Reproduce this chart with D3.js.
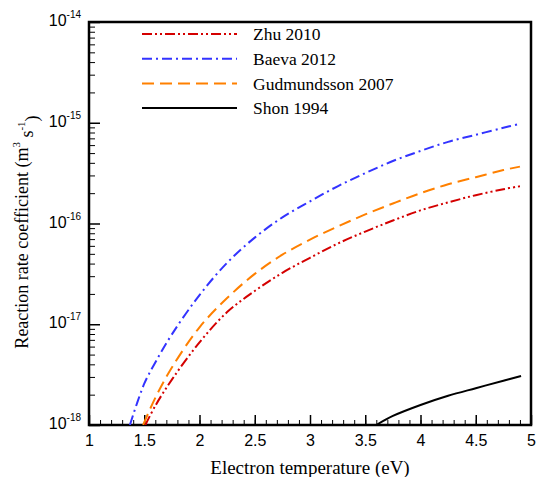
<!DOCTYPE html>
<html>
<head>
<meta charset="utf-8">
<script src="https://cdn.jsdelivr.net/npm/d3@7"></script>
<style>
  body { margin: 0; background: #fff; }
  svg { display: block; }
</style>
</head>
<body>
<svg id="chart" width="543" height="477"></svg>
<script>
//
// Data, rate coefficients in m^3 s^-1
//

var zhuT = [1.51, 1.6, 1.75, 2.0, 2.25, 2.5, 2.75, 3.0, 3.25, 3.5, 3.75, 4.0, 4.25, 4.5, 4.75, 4.9]
var zhuK = [1.0e-18, 1.55e-18, 2.82e-18, 6.61e-18, 1.32e-17, 2.14e-17, 3.24e-17, 4.57e-17,
            6.31e-17, 8.32e-17, 1.07e-16, 1.35e-16, 1.62e-16, 1.91e-16, 2.19e-16, 2.34e-16]

var baevaT = [1.37, 1.5, 1.6, 1.75, 2.0, 2.25, 2.5, 2.75, 3.0, 3.25, 3.5, 3.75, 4.0, 4.25, 4.5, 4.75, 4.9]
var baevaK = [1.0e-18, 2.57e-18, 4.17e-18, 7.94e-18, 1.95e-17, 4.07e-17, 7.24e-17, 1.15e-16, 1.66e-16,
              2.34e-16, 3.16e-16, 4.17e-16, 5.25e-16, 6.46e-16, 7.59e-16, 8.91e-16, 9.77e-16]

var gudT = [1.49, 1.6, 1.75, 2.0, 2.25, 2.5, 2.75, 3.0, 3.25, 3.5, 3.75, 4.0, 4.25, 4.5, 4.75, 4.9]
var gudK = [1.0e-18, 1.86e-18, 3.72e-18, 9.33e-18, 1.82e-17, 3.16e-17, 4.90e-17, 6.92e-17,
            9.33e-17, 1.23e-16, 1.58e-16, 2.00e-16, 2.45e-16, 2.88e-16, 3.39e-16, 3.67e-16]

var shonT = [3.6, 3.75, 4.0, 4.25, 4.5, 4.75, 4.91]
var shonK = [1.0e-18, 1.23e-18, 1.58e-18, 1.95e-18, 2.32e-18, 2.75e-18, 3.07e-18]

var seriesNames = ['Zhu 2010', 'Baeva 2012', 'Gudmundsson 2007', 'Shon 1994']
var xTicks = [1, 1.5, 2, 2.5, 3, 3.5, 4, 4.5, 5]
var yExponents = [-18, -17, -16, -15, -14]

//
// Configuration
//

var colors = ['#d40000', '#3333ff', '#ff8000', '#000000']
var dashes = ['10,3,2,3,2,3', '10,4,2,4', '12,6', null]
var margin = { left: 89, right: 12, top: 22, bottom: 52 }
var width = 543, height = 477
var serif = '"Liberation Serif", "Times New Roman", serif'
var sans = '"Liberation Sans", Arial, sans-serif'

//
// Scales
//

var svg = d3.select('#chart')
var x = d3.scaleLinear().domain([1, 5]).range([margin.left, width - margin.right])
var y = d3.scaleLog().domain([1e-18, 1e-14]).range([height - margin.bottom, margin.top])
var x0 = x.range()[0], x1 = x.range()[1]
var y0 = y.range()[0], y1 = y.range()[1]

svg.append('clipPath').attr('id', 'plot')
  .append('rect').attr('x', x0).attr('y', y1).attr('width', x1 - x0).attr('height', y0 - y1)

//
// Axes
//

// x minor ticks every 0.1
var xMinor = d3.range(10, 51).map(function(d) { return d / 10 })
svg.append('g')
  .attr('transform', 'translate(0,' + y0 + ')')
  .call(d3.axisBottom(x).tickValues(xMinor).tickSize(-5).tickFormat(''))
  .call(function(g) { g.select('.domain').remove() })
  .selectAll('line').attr('stroke-width', 1)

var xAxis = svg.append('g')
  .attr('transform', 'translate(0,' + y0 + ')')
  .call(d3.axisBottom(x).tickValues(xTicks).tickSize(-10).tickPadding(10).tickFormat(d3.format('')))
xAxis.select('.domain').remove()
xAxis.selectAll('line').attr('stroke-width', 1.5)
xAxis.selectAll('text').attr('font-family', sans).attr('font-size', 16).attr('fill', '#000')

// y minor ticks 2..9 per decade
var yMinor = []
yExponents.slice(0, -1).forEach(function(e) {
  for (var m = 2; m <= 9; m++) yMinor.push(m * Math.pow(10, e))
})
svg.append('g')
  .attr('transform', 'translate(' + x0 + ',0)')
  .call(d3.axisLeft(y).tickValues(yMinor).tickSize(-6).tickFormat(''))
  .call(function(g) { g.select('.domain').remove() })
  .selectAll('line').attr('stroke-width', 1)

var yMajor = yExponents.map(function(e) { return Math.pow(10, e) })
var yAxis = svg.append('g')
  .attr('transform', 'translate(' + x0 + ',0)')
  .call(d3.axisLeft(y).tickValues(yMajor).tickSize(-11).tickFormat(''))
yAxis.select('.domain').remove()
yAxis.selectAll('line').attr('stroke-width', 1.5)
yAxis.selectAll('text')
  .attr('font-family', sans).attr('fill', '#000').attr('dy', '0.35em').attr('x', -8)
  .each(function(d, i) {
    var t = d3.select(this)
    t.append('tspan').attr('font-size', 16).text('10')
    t.append('tspan').attr('font-size', 10).attr('dy', '-0.8em').text(String(yExponents[i]))
  })

// frame
svg.append('rect')
  .attr('x', x0).attr('y', y1).attr('width', x1 - x0).attr('height', y0 - y1)
  .attr('fill', 'none').attr('stroke', '#000').attr('stroke-width', 2.5)

// axis titles
svg.append('text')
  .attr('x', (x0 + x1) / 2).attr('y', 474)
  .attr('text-anchor', 'middle')
  .attr('font-family', serif).attr('font-size', 19)
  .text('Electron temperature (eV)')

var yTitle = svg.append('text')
  .attr('transform', 'translate(28,232) rotate(-90)')
  .attr('text-anchor', 'middle')
  .attr('font-family', serif).attr('font-size', 18)
yTitle.append('tspan').text('Reaction rate coefficient (m')
yTitle.append('tspan').attr('font-size', 11).attr('dy', '-0.7em').text('3')
yTitle.append('tspan').attr('font-size', 18).attr('dy', '0.7em').text(' s')
yTitle.append('tspan').attr('font-size', 11).attr('dy', '-0.7em').text('-1')
yTitle.append('tspan').attr('font-size', 18).attr('dy', '0.7em').text(')')

//
// Lines
//

var line = d3.line()
  .x(function(d) { return x(d[0]) })
  .y(function(d) { return y(d[1]) })
  .curve(d3.curveCatmullRom.alpha(0.5))

var series = [
  d3.zip(zhuT, zhuK),
  d3.zip(baevaT, baevaK),
  d3.zip(gudT, gudK),
  d3.zip(shonT, shonK)
]

svg.append('g').attr('clip-path', 'url(#plot)')
  .selectAll('path')
  .data(series)
  .join('path')
  .attr('d', line)
  .attr('fill', 'none')
  .attr('stroke', function(d, i) { return colors[i] })
  .attr('stroke-width', 2)
  .attr('stroke-dasharray', function(d, i) { return dashes[i] })

//
// Legend
//

var rows = svg.append('g').selectAll('g')
  .data(seriesNames)
  .join('g')
  .attr('transform', function(d, i) { return 'translate(142,' + (34 + i * 24.7) + ')' })
rows.append('line')
  .attr('x1', 0).attr('x2', 95)
  .attr('stroke', function(d, i) { return colors[i] })
  .attr('stroke-width', 2)
  .attr('stroke-dasharray', function(d, i) { return dashes[i] })
rows.append('text')
  .attr('x', 111).attr('dy', '0.35em')
  .attr('font-family', serif).attr('font-size', 17.5)
  .text(function(d) { return d })
</script>
</body>
</html>
